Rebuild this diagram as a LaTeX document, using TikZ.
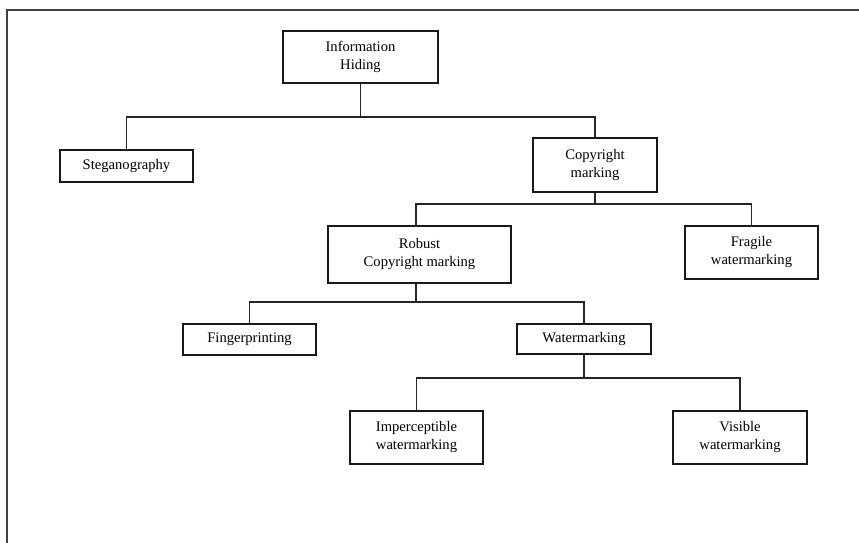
\documentclass[tikz,border=0pt]{standalone}
\usepackage{fontspec}
\setmainfont{Liberation Serif}
\begin{document}
\begin{tikzpicture}[x=1pt,y=-1pt,
  box/.style={draw=black!90,line width=1.1pt,inner sep=0pt,align=center,
    font=\fontsize{14.6}{18}\selectfont},
  conn/.style={draw=black!85,line width=1.1pt},
  frame/.style={draw=black!75,line width=1.2pt}]
\useasboundingbox (0,0) rectangle (859,543);
\draw[frame] (7,543) -- (7,10) -- (859,10);

\node[box,minimum width=155pt,minimum height=52pt] (ih) at (360.5,57) {Information\\Hiding};
\node[box,minimum width=133pt,minimum height=32pt] (steg) at (126.5,166) {Steganography};
\node[box,minimum width=124pt,minimum height=54pt] (copy) at (595,165) {Copyright\\marking};
\node[box,minimum width=183pt,minimum height=57pt] (robust) at (419.5,254.5) {Robust\\Copyright marking};
\node[box,minimum width=133pt,minimum height=53pt] (fragile) at (751.5,252.5) {Fragile\\watermarking};
\node[box,minimum width=133pt,minimum height=31pt] (finger) at (249.5,339.5) {Fingerprinting};
\node[box,minimum width=134pt,minimum height=30pt] (water) at (584,339) {Watermarking};
\node[box,minimum width=133pt,minimum height=53pt] (imper) at (416.5,437.5) {Imperceptible\\watermarking};
\node[box,minimum width=134pt,minimum height=53pt] (visible) at (740,437.5) {Visible\\watermarking};

\coordinate (b1) at (0,117);
\coordinate (b2) at (0,204);
\coordinate (b3) at (0,302);
\coordinate (b4) at (0,378);

\draw[conn] (ih.south) -- (ih.south |- b1) -| (steg.north);
\draw[conn] (ih.south |- b1) -| (copy.north);
\draw[conn] (copy.south) -- (copy.south |- b2) -| ([xshift=-3.5pt]robust.north);
\draw[conn] (copy.south |- b2) -| (fragile.north);
\draw[conn] ([xshift=-3.5pt]robust.south) -- ([xshift=-3.5pt]robust.south |- b3) -| (finger.north);
\draw[conn] ([xshift=-3.5pt]robust.south |- b3) -| (water.north);
\draw[conn] (water.south) -- (water.south |- b4) -| (imper.north);
\draw[conn] (water.south |- b4) -| (visible.north);
\end{tikzpicture}
\end{document}
